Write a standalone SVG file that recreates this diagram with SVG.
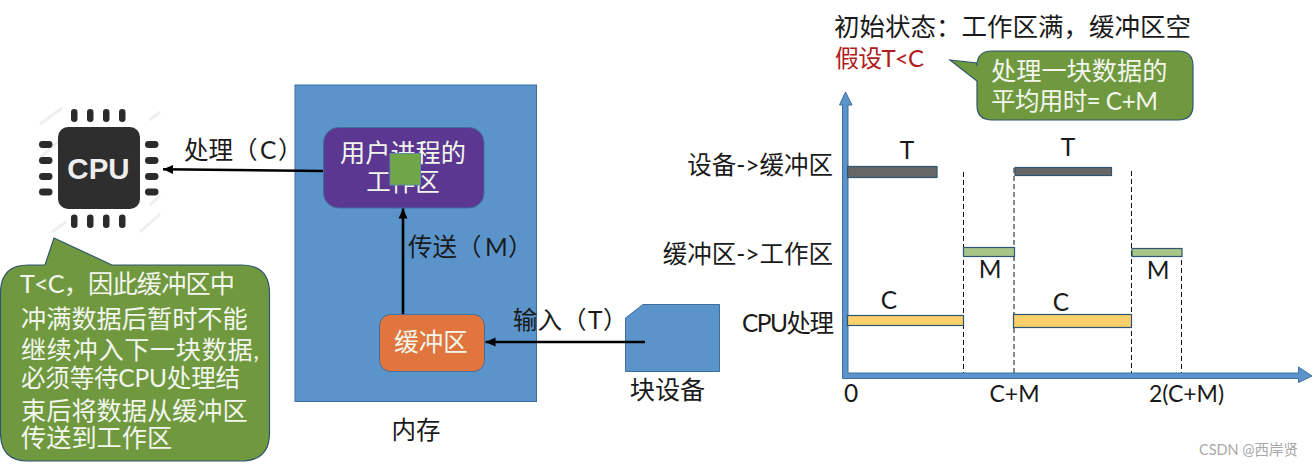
<svg xmlns="http://www.w3.org/2000/svg" width="1314" height="468" viewBox="0 0 1314 468">
<style>
text{font-family:"Lato","Noto Sans CJK SC",sans-serif;font-size:24.5px;fill:#1a1a1a}
.w{fill:#f2f6ee}
.m{text-anchor:middle}
.n{font-size:25.200px}
.l{font-size:23px}
.blue{fill:#5b94cb;stroke:#3f6f9f;stroke-width:1}
.call{fill:#70993f;stroke:#2f5570;stroke-width:1.2}
.bar{stroke:#2f5570;stroke-width:1.2}
.pin{fill:#2b2b2b}
.dash{stroke:#111;stroke-width:1;stroke-dasharray:5 3;fill:none}
.ar{stroke:#000;stroke-width:2.6;fill:none;marker-end:url(#a)}
</style>
<defs>
<marker id="a" markerUnits="userSpaceOnUse" markerWidth="12" markerHeight="12" refX="10" refY="6" orient="auto"><path d="M0 1.500L10 6L0 10.500Z" fill="#000"/></marker>
</defs>
<rect width="1314" height="468" fill="#fff"/>
<g id="cpu">
<g stroke="#efefef" stroke-width="3"><path d="M40 124L62 108M40 158L60 140M150 120L160 112M150 205L160 196M52 232L66 222M140 232L160 214"/></g>
<rect x="58" y="127" width="82" height="82" rx="10" fill="#2e2e2e"/>
<g class="pin">
<rect x="71" y="109" width="6.500" height="13" rx="3.200"/><rect x="87" y="109" width="6.500" height="13" rx="3.200"/><rect x="103" y="109" width="6.500" height="13" rx="3.200"/><rect x="119" y="109" width="6.500" height="13" rx="3.200"/>
<rect x="71" y="214.500" width="6.500" height="13.500" rx="3.200"/><rect x="87" y="214.500" width="6.500" height="13.500" rx="3.200"/><rect x="103" y="214.500" width="6.500" height="13.500" rx="3.200"/><rect x="119" y="214.500" width="6.500" height="13.500" rx="3.200"/>
<rect x="39" y="141" width="13.500" height="7" rx="3.400"/><rect x="39" y="157" width="13.500" height="7" rx="3.400"/><rect x="39" y="173" width="13.500" height="7" rx="3.400"/><rect x="39" y="188.500" width="13.500" height="7" rx="3.400"/>
<rect x="145" y="141" width="13.500" height="7" rx="3.400"/><rect x="145" y="157" width="13.500" height="7" rx="3.400"/><rect x="145" y="173" width="13.500" height="7" rx="3.400"/><rect x="145" y="188.500" width="13.500" height="7" rx="3.400"/>
</g>
<text x="98.500" y="179" class="m" style="font-family:'Liberation Sans',sans-serif;font-weight:700;font-size:29.500px;fill:#eee">CPU</text>
</g>
<g id="memory">
<rect class="blue" x="295" y="85" width="241.500" height="316.500"/>
<text x="416" y="439" class="m">内存</text>
</g>
<g id="workarea">
<rect x="323.500" y="127.500" width="160.500" height="80.500" rx="15" fill="#5b3791" stroke="#3f6f9f"/>
<text x="403" y="162" class="m w n">用户进程的</text>
<text x="403" y="191" class="m w">工作区</text>
<rect x="390" y="153.500" width="30.500" height="31.500" fill="#70a548" stroke="#5f8f9f"/>
</g>
<g id="buffer">
<rect x="379.500" y="314.500" width="105" height="57" rx="11" fill="#e0763e" stroke="#3f6f9f"/>
<text x="431" y="351" class="m w">缓冲区</text>
</g>
<g id="device">
<path class="blue" d="M625.500 318L643 304.500H719.500V371.500H625.500Z"/>
<text x="667.500" y="399" class="m n">块设备</text>
</g>
<g id="connectors">
<path class="ar" d="M323 171L163 169.300"/>
<path class="ar" d="M403 314V208.500"/>
<path class="ar" d="M645 342H485.500"/>
</g>
<g id="connector-labels">
<text x="184" y="159">处理（<tspan x="260">C</tspan><tspan x="278">）</tspan></text>
<text x="408" y="256">传送（<tspan x="485">M</tspan><tspan x="508">）</tspan></text>
<text x="513" y="329">输入（<tspan x="588">T</tspan><tspan x="603">）</tspan></text>
</g>
<g id="note-left">
<path class="call" d="M28 265H45L54 238L112 265H241Q269.500 265 269.500 293V433Q269.500 461 241 461H28Q0.500 461 0.500 433V293Q0.500 265 28 265Z"/>
<text class="w n" x="20" y="293" textLength="215">T&lt;C，因此缓冲区中</text>
<text class="w n" x="21" y="328">冲满数据后暂时不能</text>
<text class="w n" x="21" y="359" textLength="238">继续冲入下一块数据,</text>
<text class="w" x="21" y="387" textLength="219">必须等待CPU处理结</text>
<text class="w n" x="21" y="420">束后将数据从缓冲区</text>
<text class="w n" x="21" y="447">传送到工作区</text>
</g>
<g id="note-right">
<path class="call" d="M992 51H1178Q1193 51 1193 66V105Q1193 120 1178 120H992Q977 120 977 105V81L950 60L977 63V66Q977 51 992 51Z"/>
<text class="w n" x="991" y="80">处理一块数据的</text>
<text class="w" x="991" y="110" textLength="167">平均用时= C+M</text>
</g>
<g id="title">
<text x="834" y="36" style="font-size:25.500px">初始状态：工作区满，缓冲区空</text>
<text x="835" y="67" textLength="89" style="fill:#b01c1c;font-size:24px">假设T&lt;C</text>
</g>
<g id="chart">
<path class="dash" d="M963.500 172V375M1014 168V375M1131.500 171V375M1181.500 252V375"/>
<path class="blue" d="M842.500 378.500V105H839.500L845.500 92L852 105H848V373H1298.500V367L1312 376L1298.500 382.500V378.500Z"/>
<rect class="bar" x="847.500" y="166.500" width="89.500" height="11" fill="#666"/>
<rect class="bar" x="1015" y="167.500" width="96.500" height="8" fill="#666"/>
<rect class="bar" x="963.500" y="247.500" width="51" height="9" fill="#a9c68a"/>
<rect class="bar" x="1132" y="248.500" width="50" height="8" fill="#a9c68a"/>
<rect class="bar" x="847.500" y="315.500" width="116" height="10" fill="#fbcf6c"/>
<rect class="bar" x="1013.500" y="314.500" width="118" height="13" fill="#fbcf6c"/>
<text x="833" y="174" text-anchor="end">设备-&gt;缓冲区</text>
<text x="833" y="263" text-anchor="end">缓冲区-&gt;工作区</text>
<text x="742" y="332" textLength="92">CPU处理</text>
<text x="907" y="159" class="m">T</text>
<text x="1068" y="156" class="m">T</text>
<text x="990" y="278" class="m">M</text>
<text x="1158" y="279" class="m">M</text>
<text x="889" y="309" class="m">C</text>
<text x="1061" y="311" class="m">C</text>
<text x="851" y="402" class="m">0</text>
<text x="1014.500" y="402" class="m l">C+M</text>
<text x="1186.500" y="402" class="m l">2(C+M)</text>
</g>
<text x="1199" y="455" textLength="99" style="font-size:14.500px;fill:#a8a8a8">CSDN @西岸贤</text>
</svg>
